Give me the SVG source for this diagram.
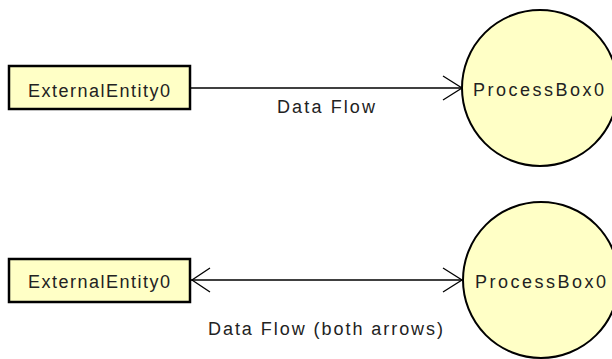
<svg xmlns="http://www.w3.org/2000/svg" width="612" height="359" viewBox="0 0 612 359">
<style>
.ent{fill:#ffffc6;stroke:#000;stroke-width:2.5}
.proc{fill:#ffffc6;stroke:#000;stroke-width:2}
.t{font-family:"Liberation Sans",Arial,sans-serif;font-size:18px;fill:#222}
.edge{stroke:#000;stroke-width:1.3;fill:none}
.head{stroke:#000;stroke-width:1.3;fill:none}
</style>
<rect width="612" height="359" fill="#fff"/>
<g id="connectors">
<g id="flow1">
<line class="edge" x1="190" y1="88" x2="462" y2="88"/>
<polyline class="head" points="443,76 462,88 443,100"/>
<text class="t" x="277" y="113" textLength="98" lengthAdjust="spacing">Data Flow</text>
</g>
<g id="flow2">
<line class="edge" x1="191" y1="280" x2="462" y2="280"/>
<polyline class="head" points="210,268 192,280 210,292"/>
<polyline class="head" points="443,268 462,280 443,292"/>
<text class="t" x="208" y="335" textLength="235" lengthAdjust="spacing">Data Flow (both arrows)</text>
</g>
</g>
<g id="ExternalEntity0_a">
<rect class="ent" x="9" y="66" width="181" height="43"/>
<text class="t" x="28" y="97" textLength="142" lengthAdjust="spacing">ExternalEntity0</text>
</g>
<g id="ProcessBox0_a">
<circle class="proc" cx="540" cy="88" r="78"/>
<text class="t" x="473" y="96" textLength="131" lengthAdjust="spacing">ProcessBox0</text>
</g>
<g id="ExternalEntity0_b">
<rect class="ent" x="9" y="259" width="181" height="43"/>
<text class="t" x="28" y="288" textLength="142" lengthAdjust="spacing">ExternalEntity0</text>
</g>
<g id="ProcessBox0_b">
<circle class="proc" cx="541" cy="280" r="78"/>
<text class="t" x="475" y="288" textLength="131" lengthAdjust="spacing">ProcessBox0</text>
</g>
</svg>
